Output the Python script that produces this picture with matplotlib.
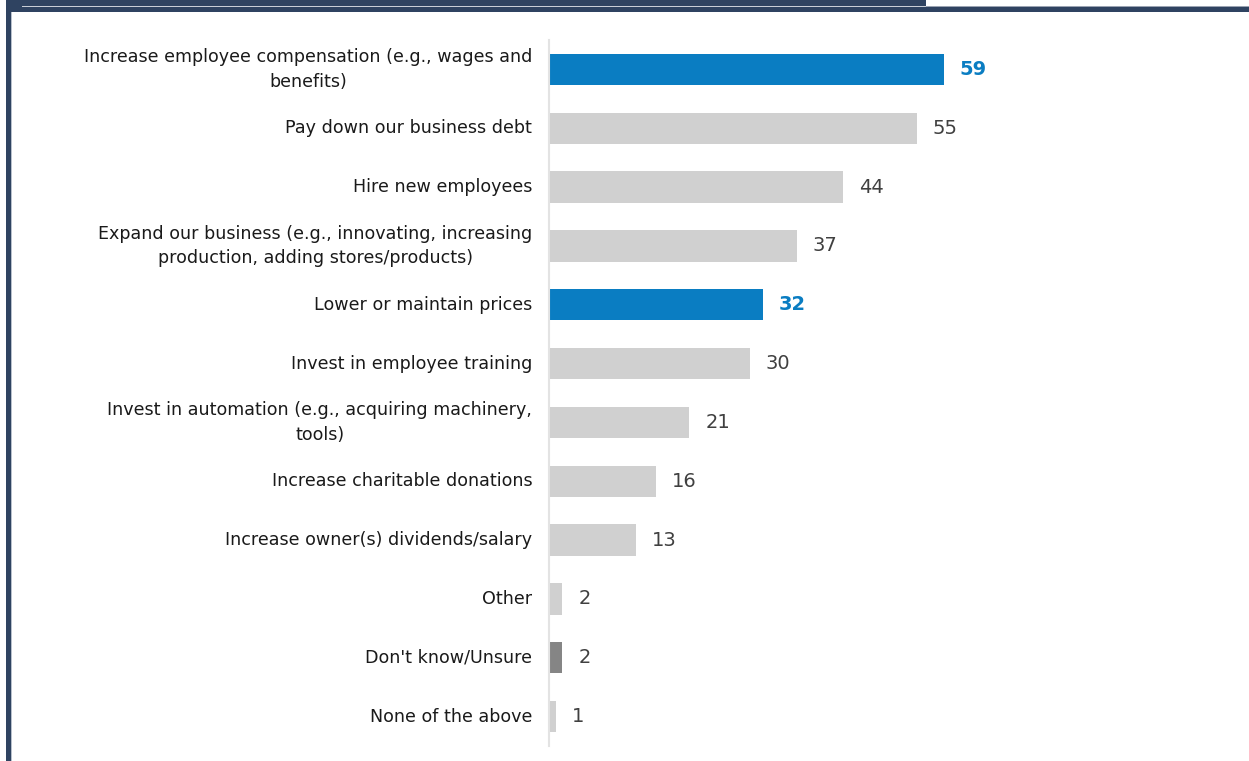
#!/usr/bin/env python3

import matplotlib.pyplot as plt
from matplotlib.patches import Rectangle

# Survey responses: share of businesses (%) choosing each use
categories = [
    "Increase employee compensation (e.g., wages and\nbenefits)",
    "Pay down our business debt",
    "Hire new employees",
    "Expand our business (e.g., innovating, increasing\nproduction, adding stores/products)",
    "Lower or maintain prices",
    "Invest in employee training",
    "Invest in automation (e.g., acquiring machinery,\ntools)",
    "Increase charitable donations",
    "Increase owner(s) dividends/salary",
    "Other",
    "Don't know/Unsure",
    "None of the above",
]
values = [59, 55, 44, 37, 32, 30, 21, 16, 13, 2, 2, 1]
highlight = ["blue", "gray", "gray", "gray", "blue", "gray",
             "gray", "gray", "gray", "gray", "dark", "gray"]

BLUE = "#0A7DC2"
GRAY = "#D0D0D0"
DARK = "#858585"
NAVY = "#2F4361"
colour_map = {"blue": BLUE, "gray": GRAY, "dark": DARK}

W, H = 1249, 761
fig = plt.figure(figsize=(W / 100, H / 100), dpi=100)
fig.patch.set_facecolor("white")

# frame pieces along the top and left edge (pixel coordinates)
def px_rect(x0, y0, x1, y1, color):
    fig.patches.append(Rectangle((x0 / W, 1 - y1 / H), (x1 - x0) / W, (y1 - y0) / H,
                                 transform=fig.transFigure, color=color, lw=0, zorder=0))

px_rect(6, 0, 926, 7, NAVY)
px_rect(6, 7, W, 12, NAVY)
px_rect(22, 6, 926, 7, "#C8CDD6")
px_rect(926, 6, W, 7, "#9AA3B2")
px_rect(6, 0, 11, H, NAVY)
px_rect(11, 12, 12, H, "#B8C0CC")

ax_left, ax_right = 549, 1218
ax_top, ax_bottom = 40, 746
ax = fig.add_axes([ax_left / W, 1 - ax_bottom / H,
                   (ax_right - ax_left) / W, (ax_bottom - ax_top) / H])

pos = list(range(len(categories)))
colors = [colour_map[h] for h in highlight]
ax.barh(pos, values, height=0.53, color=colors, zorder=2)

ax.set_xlim(0, 100)
ax.set_ylim(len(categories) - 0.5, -0.5)
for side in ["top", "right", "bottom"]:
    ax.spines[side].set_visible(False)
ax.spines["left"].set_color("#E3E3E3")
ax.spines["left"].set_linewidth(1.5)
ax.set_xticks([])
ax.set_yticks([])

for i, (cat, v, h) in enumerate(zip(categories, values, highlight)):
    ax.annotate(cat, xy=(0, i), xytext=(-12, 0), textcoords="offset points",
                ha="right", va="center", multialignment="center",
                fontsize=12.6, linespacing=1.45, color="#1A1A1A")
    if h == "blue":
        ax.annotate(str(v), xy=(v, i), xytext=(11.5, 0), textcoords="offset points",
                    ha="left", va="center", fontsize=14, fontweight="bold", color=BLUE)
    else:
        ax.annotate(str(v), xy=(v, i), xytext=(11.5, 0), textcoords="offset points",
                    ha="left", va="center", fontsize=14, color="#404040")

plt.savefig("out.png", dpi=100)
